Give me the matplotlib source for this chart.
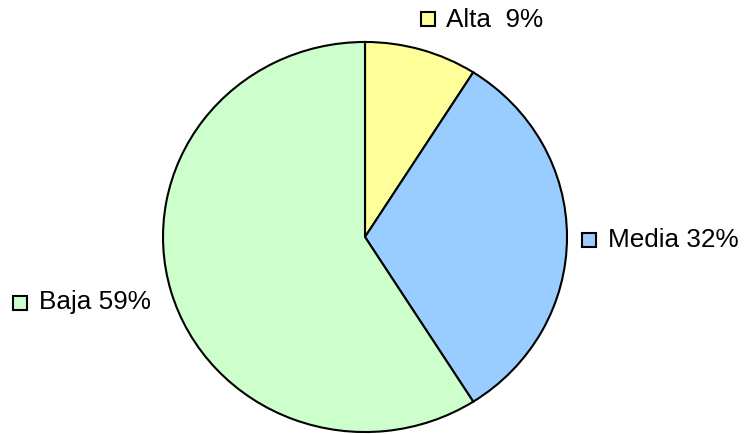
import matplotlib
matplotlib.use("Agg")
import matplotlib.pyplot as plt
from matplotlib.patches import Rectangle

plt.rcParams['font.family'] = ['Liberation Sans', 'DejaVu Sans']

labels = ["Alta", "Media", "Baja"]
percents = [9, 32, 59]
colors = ["#FFFF99", "#99CCFF", "#CCFFCC"]

W, H = 745, 435
fig = plt.figure(figsize=(W / 100, H / 100), dpi=100)

# pie is slightly wider than tall, so the axes is not square
cx, cy, rx, ry = 365, 238, 203, 196
ax = fig.add_axes([(cx - rx) / W, (H - cy - ry) / H, 2 * rx / W, 2 * ry / H])
ax.pie(percents, colors=colors, startangle=90, counterclock=False,
       wedgeprops=dict(edgecolor="black", linewidth=1.5))
ax.set_xlim(-1.005, 1.005)
ax.set_ylim(-1.005, 1.005)
ax.set_aspect("auto")
ax.axis("off")

# label anchors in pixels: (square x, square y, text x, baseline y)
anchors = [(421, 13, 446, 27), (582, 234, 608, 247), (13, 297, 39, 309)]
for lab, pct, col, (sx, sy, tx, ty) in zip(labels, percents, colors, anchors):
    fig.patches.append(Rectangle((sx / W, (H - sy - 14) / H), 14 / W, 14 / H,
                                 transform=fig.transFigure, facecolor=col,
                                 edgecolor="black", linewidth=1.5))
    fig.text(tx / W, (H - ty) / H, f"{lab} {pct:>2d}%", fontsize=18.8,
             va="baseline", ha="left")

fig.savefig("out.png", dpi=100)
